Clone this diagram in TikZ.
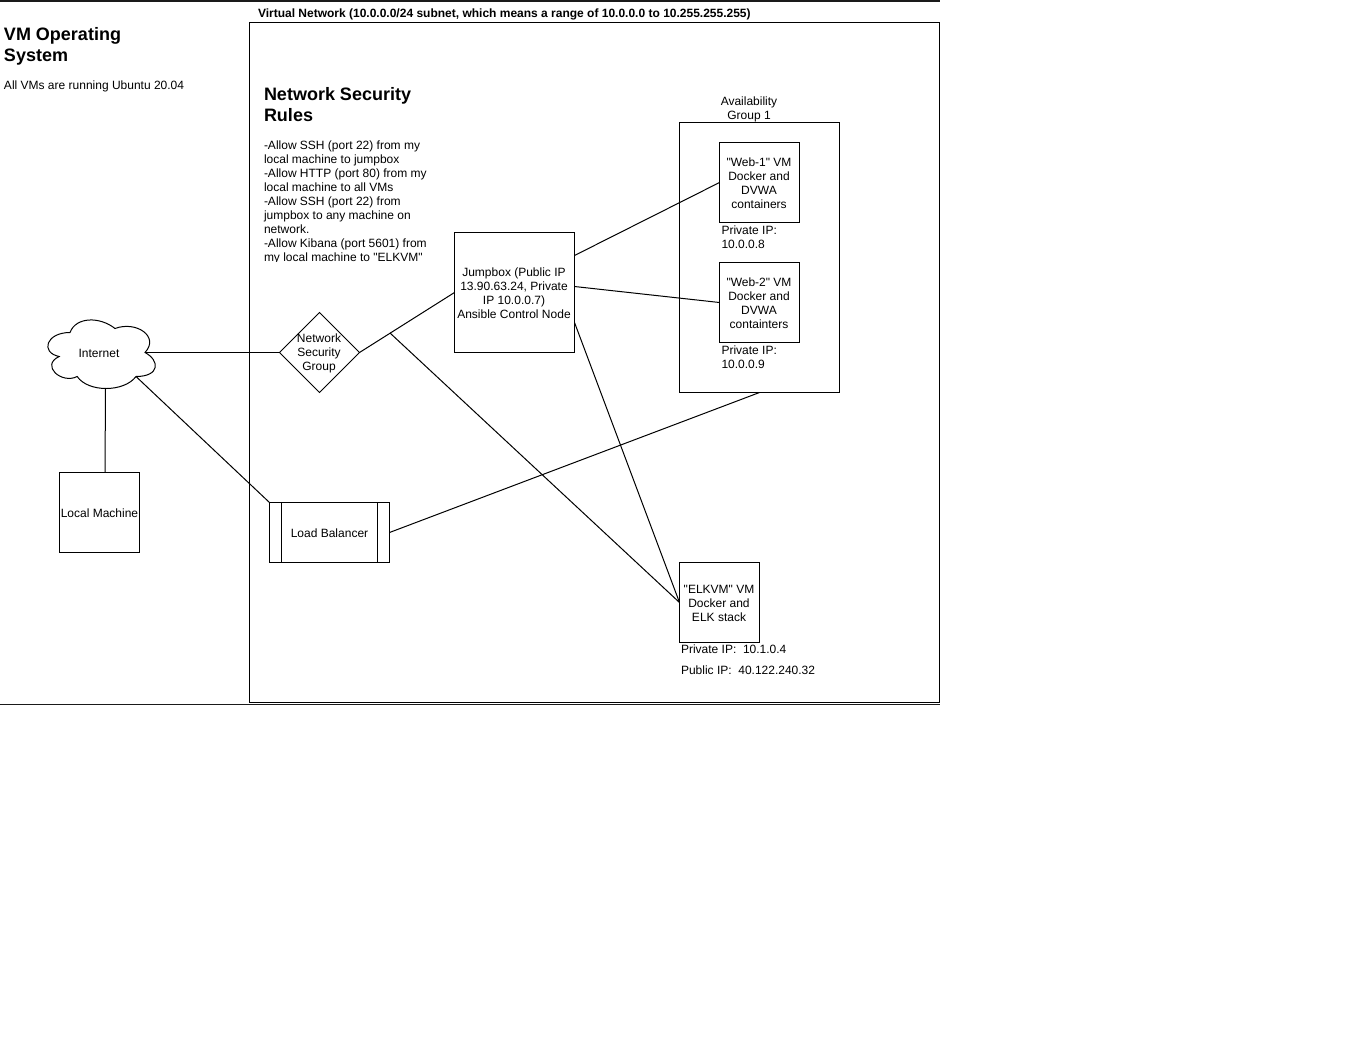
\documentclass[tikz,border=0pt]{standalone}
\usepackage{fontspec}
\setmainfont{Liberation Sans}[Ligatures=TeXOff]
\usepackage{xcolor}
\definecolor{framegray}{HTML}{1A1A1A}
\usetikzlibrary{shapes.geometric}
\tikzset{
  vmbox/.style={draw=black,fill=white,line width=1pt,inner sep=0pt,outer sep=0pt},
  boxtext/.style={inner sep=0pt,outer sep=0pt,align=center,font=\fontsize{12}{14}\selectfont},
  txtlabel/.style={inner sep=0pt,outer sep=0pt,align=left,anchor=north west,
    font=\fontsize{12}{14}\selectfont},
  headlabel/.style={inner sep=0pt,outer sep=0pt,align=left,anchor=north west,
    font=\fontsize{18}{21}\selectfont\bfseries},
  link/.style={draw=black,line width=1pt}
}
\begin{document}
\begin{tikzpicture}[x=1pt,y=-1pt]
    \useasboundingbox (0,0) rectangle (1362,1042);
    \fill[color=white] (0,0) rectangle (1362,1042);
    \fill[color=framegray] (0,0) rectangle (940,2);
    \fill[color=framegray] (0,703.5) rectangle (940,704.5);
    \node[vmbox,minimum width=690pt,minimum height=680pt] (vnet) at (594.5,362.5) {};
    \node[txtlabel,anchor=west,font=\fontsize{12}{14}\selectfont\bfseries] (vnettitle) at (258,14) {Virtual Network (10.0.0.0/24 subnet, which means a range of 10.0.0.0 to 10.255.255.255)};
    % left column
    \node[headlabel] (vmhead) at (4,27) {VM Operating\\System};
    \node[txtlabel] (vmtext) at (4,81) {All VMs are running Ubuntu 20.04};
    % rules text, cut off at the bottom
    \node[headlabel] (ruleshead) at (264,87) {Network Security\\Rules};
    \begin{scope}
      \clip (260,130) rectangle (440,261);
      \node[txtlabel] (rulestext) at (264,141) {-Allow SSH (port 22) from my\\local machine to jumpbox\\-Allow HTTP (port 80) from my\\local machine to all VMs\\-Allow SSH (port 22) from\\jumpbox to any machine on\\network.\\-Allow Kibana (port 5601) from\\my local machine to "ELKVM"};
    \end{scope}
    % cloud outline
    \begin{scope}[shift={(40,312.5)},x=120pt,y=-80pt]
      \draw[link,fill=white] (0.25,0.25) .. controls (0.05,0.25) and (0,0.5) .. (0.16,0.55)
        .. controls (0,0.66) and (0.18,0.9) .. (0.31,0.8)
        .. controls (0.4,1) and (0.7,1) .. (0.8,0.8)
        .. controls (1,0.8) and (1,0.6) .. (0.875,0.5)
        .. controls (1,0.3) and (0.8,0.1) .. (0.625,0.2)
        .. controls (0.5,0.05) and (0.3,0.05) .. (0.25,0.25) -- cycle;
    \end{scope}
    % nodes
    \node[boxtext] (internet) at (99,353) {Internet};
    \node[vmbox,minimum width=80pt,minimum height=80pt] (localmachine) at (99.5,512.5) {};
    \node[boxtext] (localtext) at (99.5,513) {Local Machine};
    \node[vmbox,shape=diamond,minimum width=80pt,minimum height=80pt] (nsg) at (319.5,352.5) {};
    \node[boxtext] (nsgtext) at (319,353) {Network\\Security\\Group};
    \node[vmbox,minimum width=120pt,minimum height=60pt] (balancer) at (329.5,532.5) {};
    \node[boxtext] (balancertext) at (329.5,533) {Load Balancer};
    \draw[link] ([xshift=12pt]balancer.north west) -- ([xshift=12pt]balancer.south west);
    \draw[link] ([xshift=-12pt]balancer.north east) -- ([xshift=-12pt]balancer.south east);
    \node[vmbox,minimum width=120pt,minimum height=120pt] (jumpbox) at (514.5,292.5) {};
    \node[boxtext] (jumpboxtext) at (514,293) {Jumpbox (Public IP\\13.90.63.24, Private\\IP 10.0.0.7)\\Ansible Control Node};
    \node[vmbox,fill=none,minimum width=160pt,minimum height=270pt] (avgroup) at (759.5,257.5) {};
    \node[boxtext] (avtitle) at (749,109) {Availability\\Group 1};
    \node[vmbox,minimum width=80pt,minimum height=80pt] (webone) at (759.5,182.5) {};
    \node[boxtext] (webonelabel) at (759,183) {"Web-1" VM\\Docker and\\DVWA\\containers};
    \node[txtlabel] (webonetext) at (721.5,226) {Private IP:\\10.0.0.8};
    \node[vmbox,minimum width=80pt,minimum height=80pt] (webtwo) at (759.5,302.5) {};
    \node[boxtext] (webtwolabel) at (759,303) {"Web-2" VM\\Docker and\\DVWA\\containters};
    \node[txtlabel] (webtwotext) at (721.5,346) {Private IP:\\10.0.0.9};
    \node[vmbox,minimum width=80pt,minimum height=80pt] (elkvm) at (719.5,602.5) {};
    \node[boxtext] (elklabel) at (719,603) {"ELKVM" VM\\Docker and\\ELK stack};
    \node[txtlabel] (elkprivate) at (681,644.5) {Private IP:\ \ 10.1.0.4};
    \node[txtlabel] (elkpublic) at (681,665.5) {Public IP:\ \ 40.122.240.32};
    % connectors
    \coordinate (branch) at (390,333);
    \coordinate (internetport) at (145,352.5);
    \coordinate (internetfoot) at (105.5,388.5);
    \coordinate (internetslant) at (136,376.5);
    \draw[link] (internetport) -- (nsg.west);
    \draw[link] (internetfoot) -- ([xshift=5.5pt]localmachine.north);
    \draw[link] (internetslant) -- (balancer.north west);
    \draw[link] (nsg.east) -- (jumpbox.west);
    \draw[link] (branch) -- (elkvm.west);
    \draw[link] ([yshift=37pt]jumpbox.east) -- (webone.west);
    \draw[link] ([yshift=6pt]jumpbox.east) -- (webtwo.west);
    \draw[link] ([yshift=-30pt]jumpbox.east) -- (elkvm.west);
    \draw[link] (balancer.east) -- (avgroup.south);
\end{tikzpicture}
\end{document}
